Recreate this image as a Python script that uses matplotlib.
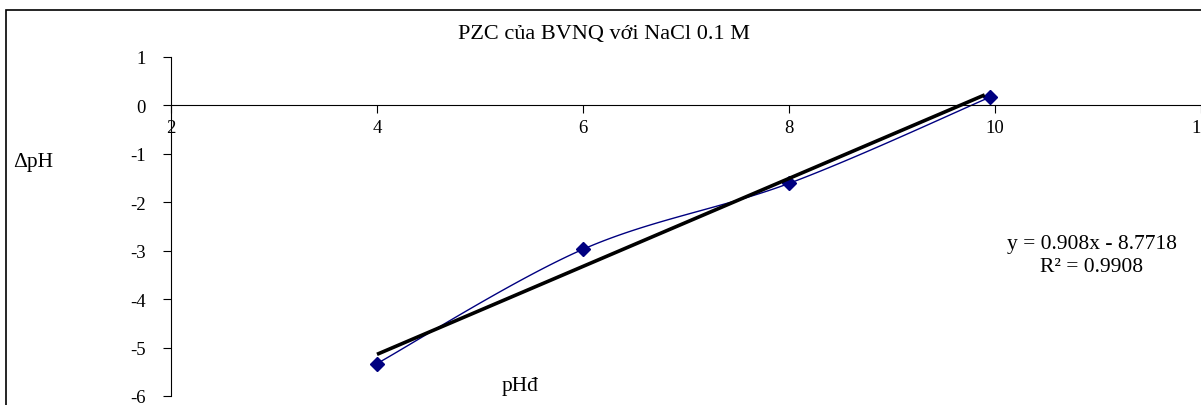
import numpy as np
import matplotlib
matplotlib.use('Agg')
from matplotlib import pyplot as plt
from matplotlib.patches import Rectangle

# data
ph_start = [4.0, 6.0, 8.0, 9.95]
delta_ph = [-5.33, -2.97, -1.61, 0.17]
x_ticks = [2, 4, 6, 8, 10, 12]
y_ticks = [1, 0, -1, -2, -3, -4, -5, -6]
slope = 0.908
intercept = -8.7718
r_squared = 0.9908

plt.rcParams['font.family'] = ['Liberation Serif', 'DejaVu Serif']
plt.rcParams['axes.unicode_minus'] = False

W, H = 1201, 406


def smooth(xs, ys, n=40):
    # Catmull-Rom curve through the points, like Excel's smoothed line
    px = [xs[0]] + list(xs) + [xs[-1]]
    py = [ys[0]] + list(ys) + [ys[-1]]
    out_x, out_y = [], []
    for i in range(1, len(px) - 2):
        t = np.linspace(0, 1, n)
        for p, out in ((px, out_x), (py, out_y)):
            p0, p1, p2, p3 = p[i - 1], p[i], p[i + 1], p[i + 2]
            out.extend(0.5 * ((2 * p1) + (-p0 + p2) * t
                              + (2 * p0 - 5 * p1 + 4 * p2 - p3) * t ** 2
                              + (-p0 + 3 * p1 - 3 * p2 + p3) * t ** 3))
    return out_x, out_y


fig = plt.figure(figsize=(W / 100, H / 100), dpi=100)

# chart area border
fig.patches.append(Rectangle((6 / W, -0.1), 1.2, 1 - 11 / H + 0.1,
                             transform=fig.transFigure, fill=False,
                             edgecolor='black', linewidth=1.2))

left = 171 / W
right = 1201 / W
top = 1 - 58 / H
bottom = 1 - 397 / H
ax = fig.add_axes([left, bottom, right - left, top - bottom])
ax.set_xlim(2, 12)
ax.set_ylim(-6, 1)
ax.patch.set_alpha(0)

for side in ('top', 'right'):
    ax.spines[side].set_visible(False)
ax.spines['bottom'].set_position(('data', 0))
ax.spines['left'].set_linewidth(0.8)
ax.spines['bottom'].set_linewidth(0.8)

ax.set_xticks(x_ticks)
ax.set_yticks(y_ticks)
ax.tick_params(axis='x', direction='out', length=6, width=0.8, pad=4, labelsize=13.5)
ax.tick_params(axis='y', direction='out', length=6, width=0.8, pad=12, labelsize=13.5)
for lbl in ax.get_xticklabels():
    lbl.set_clip_on(False)

sx, sy = smooth(ph_start, delta_ph)
ax.plot(sx, sy, color='#000080', linewidth=1.0, clip_on=False)
ax.plot(ph_start, delta_ph, linestyle='none', marker='D', markersize=7,
        color='#000080', clip_on=False)

fit_x = np.array([ph_start[0], 9.9])
ax.plot(fit_x, slope * fit_x + intercept, color='black', linewidth=2.6,
        solid_capstyle='butt', clip_on=False)

fig.text(604 / W, 1 - 35 / H, 'PZC của BVNQ với NaCl 0.1 M', ha='center',
         va='center', fontsize=16)
fig.text(13 / W, 1 - 163 / H, 'ΔpH', ha='left', va='center', fontsize=15.5)
fig.text(502 / W, 1 - 387 / H, 'pHđ', ha='left', va='center', fontsize=15.5)
fig.text(1092 / W, 1 - 256 / H,
         'y = %.3fx - %.4f\nR² = %.4f' % (slope, -intercept, r_squared),
         ha='center', va='center', fontsize=15.5, linespacing=1.25)

fig.savefig('out.png', dpi=100)
